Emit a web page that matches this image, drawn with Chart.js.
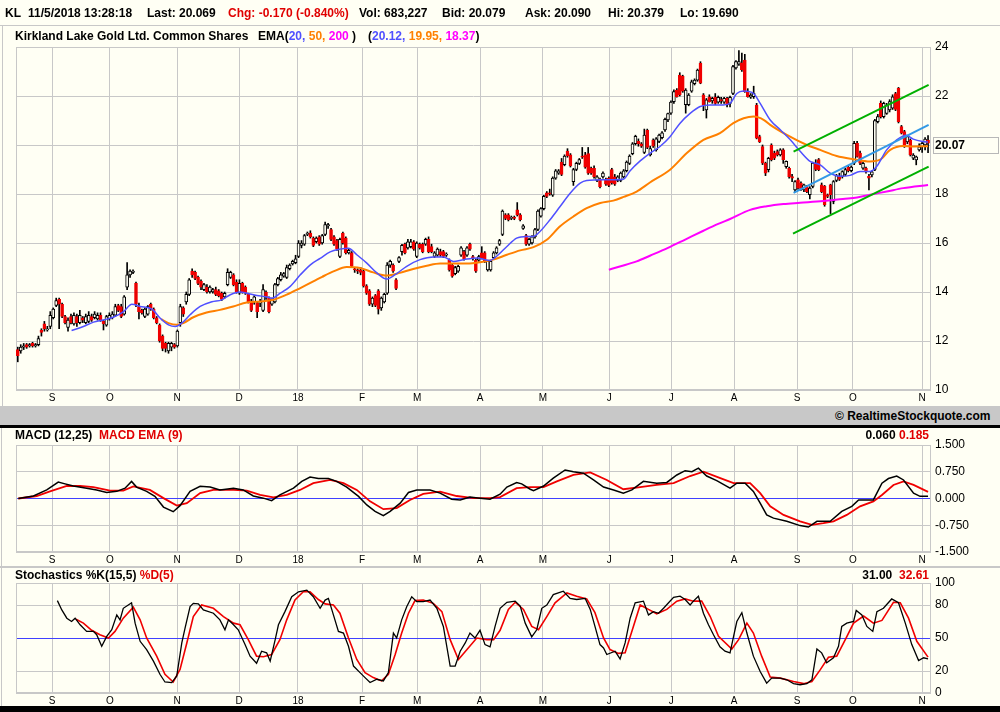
<!DOCTYPE html>
<html><head><meta charset="utf-8">
<script src="https://cdn.jsdelivr.net/npm/chart.js@4.4.1/dist/chart.umd.min.js"></script>
<style>
html,body{margin:0;padding:0;background:#FFFFF4;}
#wrap{position:relative;width:1000px;height:712px;overflow:hidden;background:#FFFFF4;font-family:"Liberation Sans",Arial,sans-serif;font-weight:bold;font-size:12px;color:#000}
.t{position:absolute;white-space:nowrap;line-height:14px}
canvas{position:absolute;left:0}
.red{color:#E00000}
</style></head>
<body><div id="wrap">
<canvas id="price" width="1000" height="405" style="top:0"></canvas>
<canvas id="macd" width="1000" height="139" style="top:428px"></canvas>
<canvas id="stoch" width="1000" height="139" style="top:567px"></canvas>

<div style="position:absolute;left:0;top:25px;width:1000px;height:1px;background:#C8C8C8"></div>
<div style="position:absolute;left:2px;top:26px;width:1px;height:380px;background:#C8C8C8"></div>
<div style="position:absolute;left:0;top:406px;width:1000px;height:19px;background:#C8C8C8"></div>
<div style="position:absolute;left:0;top:425px;width:1000px;height:3px;background:#000"></div>
<div style="position:absolute;left:1px;top:428px;width:1px;height:278px;background:#C8C8C8"></div>
<div style="position:absolute;left:0;top:566px;width:1000px;height:2px;background:#C8C8C8"></div>
<div style="position:absolute;left:0;top:706px;width:1000px;height:6px;background:#000"></div>

<div class="t" style="left:5px;top:6px">KL</div>
<div class="t" style="left:28px;top:6px">11/5/2018 13:28:18</div>
<div class="t" style="left:147px;top:6px">Last: 20.069</div>
<div class="t red" style="left:228px;top:6px">Chg: -0.170 (-0.840%)</div>
<div class="t" style="left:359px;top:6px">Vol: 683,227</div>
<div class="t" style="left:442px;top:6px">Bid: 20.079</div>
<div class="t" style="left:525px;top:6px">Ask: 20.090</div>
<div class="t" style="left:608px;top:6px">Hi: 20.379</div>
<div class="t" style="left:680px;top:6px">Lo: 19.690</div>

<div class="t" style="left:15px;top:29px">Kirkland Lake Gold Ltd. Common Shares</div>
<div class="t" style="left:258px;top:29px">EMA(<span style="color:#5050FF">20,</span> <span style="color:#FF8000">50,</span> <span style="color:#FF00FF">200</span> )</div>
<div class="t" style="left:368px;top:29px">(<span style="color:#5050FF">20.12,</span> <span style="color:#FF8000">19.95,</span> <span style="color:#FF00FF">18.37</span>)</div>

<div class="t" style="left:835px;top:409px">© RealtimeStockquote.com</div>

<div class="t" style="left:15px;top:428px">MACD (12,25) <span class="red">&nbsp;MACD EMA (9)</span></div>
<div class="t" style="right:71px;top:428px">0.060 <span class="red">0.185</span></div>

<div class="t" style="left:15px;top:568px">Stochastics %K(15,5) <span class="red">%D(5)</span></div>
<div class="t" style="right:71px;top:568px">31.00 &nbsp;<span class="red">32.61</span></div>
</div>
<script>
// ---------- DATA (trading days, index 0 = mid Aug 2017) ----------
const opens = [
11.65,11.60,11.75,11.85,11.80,11.90,11.80,11.85,12.45,12.70,
12.45,12.60,12.95,13.45,13.70,13.50,13.00,12.55,13.00,12.70,
13.00,12.75,12.95,12.75,12.80,13.00,12.95,12.90,13.05,12.80,
12.65,12.90,12.95,13.05,13.45,13.40,13.10,14.20,14.70,14.80,
14.35,13.40,13.25,13.00,13.10,13.50,13.30,12.95,12.65,12.20,
11.90,11.60,11.75,11.85,11.80,12.75,13.35,13.60,13.90,14.85,
14.80,14.60,14.45,14.10,14.20,14.00,14.00,14.10,14.05,13.95,
13.80,14.30,14.60,14.70,14.40,13.95,14.35,14.20,13.90,13.60,
13.60,13.55,13.55,13.25,14.00,13.75,13.50,13.60,14.30,14.50,
14.65,14.60,14.95,15.15,15.20,15.45,15.90,15.95,16.35,16.40,
16.20,16.05,16.25,16.00,16.35,16.70,16.55,16.25,16.10,15.45,
16.40,16.20,15.60,15.60,14.95,14.90,14.90,14.85,14.25,14.05,
13.50,13.85,14.05,13.35,13.60,13.95,15.10,15.10,14.50,15.25,
15.65,15.95,15.80,15.85,16.05,15.45,15.95,15.95,15.95,16.15,
15.85,15.45,15.50,15.65,15.65,15.50,15.30,15.10,14.75,14.85,
15.50,15.65,15.50,15.95,15.45,15.30,15.30,15.60,15.60,14.90,
14.90,15.40,15.60,15.95,16.35,17.15,17.15,17.00,17.05,17.35,
17.15,16.60,16.30,15.95,16.00,16.25,16.55,17.10,17.40,18.05,
18.05,17.95,18.65,18.85,19.30,19.20,19.75,19.60,18.50,19.00,
19.25,19.55,19.60,19.65,19.05,19.05,18.55,18.60,18.70,18.60,
18.65,19.00,18.70,18.55,18.55,18.70,18.95,19.25,19.65,20.05,
20.15,20.05,19.70,20.60,19.60,20.20,19.80,20.15,20.30,20.62,
21.02,21.30,21.77,22.24,22.85,22.80,21.65,21.65,22.20,22.50,
22.65,23.33,22.05,21.43,21.97,21.80,21.95,21.75,21.85,21.75,
21.90,21.70,22.11,23.15,23.30,23.35,23.47,22.18,21.95,21.97,
21.63,20.34,19.94,19.26,18.99,20.00,19.67,19.73,19.60,19.80,
19.12,19.05,18.71,18.17,18.58,18.45,18.17,18.30,17.97,18.31,
19.25,19.40,18.37,18.31,17.97,18.37,17.70,18.55,18.70,18.72,
18.80,19.10,18.95,19.26,20.07,19.67,19.05,19.05,18.72,18.78,
19.00,20.95,21.70,21.16,21.29,21.43,21.50,22.10,22.31,20.75,
20.55,20.13,20.20,19.46,19.39,19.80,19.93,20.00,20.20];
const highs = [
11.75,11.85,11.90,11.90,11.90,11.95,11.90,12.20,12.50,12.80,
12.60,13.20,13.35,13.75,13.75,13.55,13.05,12.95,13.10,13.15,
13.10,13.25,13.00,13.10,13.20,13.10,13.20,13.15,13.15,12.85,
13.05,13.15,13.20,13.50,13.50,13.50,13.85,15.20,14.90,14.90,
14.40,13.55,13.30,13.35,13.45,13.55,13.35,13.00,12.70,12.25,
11.95,11.95,11.95,11.90,12.45,13.50,13.40,14.00,14.55,14.95,
14.85,14.65,14.50,14.35,14.30,14.25,14.15,14.20,14.10,14.00,
14.00,14.95,14.85,14.75,14.50,14.50,14.40,14.25,13.95,13.70,
13.85,13.60,13.70,14.30,14.05,13.80,13.75,14.35,14.60,14.80,
14.80,15.10,15.15,15.30,15.50,16.10,16.10,16.35,16.45,16.50,
16.25,16.25,16.30,16.35,16.85,16.80,16.60,16.30,16.15,16.20,
16.45,16.25,15.75,15.65,15.00,14.95,15.00,14.90,14.30,14.10,
13.80,13.90,14.10,13.80,13.95,15.20,15.30,15.15,14.55,15.45,
15.95,16.00,16.15,16.15,16.10,16.05,16.00,16.00,16.20,16.25,
15.95,15.65,15.80,15.75,15.70,15.60,15.35,15.15,15.05,15.10,
15.85,15.70,15.85,16.00,15.50,15.35,15.50,15.85,15.65,15.30,
15.30,15.65,15.85,16.15,17.35,17.20,17.20,17.10,17.10,17.65,
17.20,16.75,16.35,16.20,16.30,16.60,17.35,17.45,17.95,18.10,
18.20,18.70,19.00,19.00,19.45,19.60,19.85,19.65,19.05,19.30,
19.45,19.90,19.70,19.90,19.10,19.15,18.75,18.65,18.90,18.65,
18.70,19.05,18.80,18.75,18.90,19.00,19.35,19.60,20.10,20.40,
20.25,20.10,20.65,20.65,19.95,20.25,20.30,20.45,20.55,21.10,
21.30,21.80,22.25,22.30,22.95,22.85,22.30,22.10,22.65,22.70,
23.10,23.40,22.10,21.90,22.05,21.95,22.10,22.00,21.95,21.95,
21.95,22.00,23.25,23.45,23.85,23.75,23.70,22.30,22.10,22.40,
21.70,20.40,20.00,19.30,19.50,20.05,19.75,19.80,19.85,19.85,
19.35,19.10,18.80,18.55,18.65,18.50,18.40,18.35,18.30,19.30,
19.40,19.45,18.45,18.35,18.00,18.40,18.55,18.80,18.85,18.95,
19.05,19.15,19.15,20.15,20.15,19.75,19.30,19.10,18.80,18.95,
21.05,21.25,21.80,21.75,21.70,21.85,22.05,22.15,22.35,20.80,
20.60,20.40,20.25,19.65,19.55,20.05,20.15,20.30,20.38];
const lows = [
11.15,11.50,11.65,11.70,11.75,11.75,11.75,11.80,12.20,12.40,
12.40,12.50,12.90,13.40,12.50,12.95,12.70,12.40,12.70,12.65,
12.60,12.70,12.75,12.70,12.75,12.80,12.90,12.85,12.80,12.45,
12.60,12.85,12.90,13.00,13.20,12.95,13.05,14.10,14.60,14.75,
13.40,12.90,13.10,12.95,13.05,13.25,12.90,12.70,11.95,11.60,
11.55,11.50,11.60,11.70,11.75,12.60,13.00,13.50,13.85,14.60,
14.50,14.30,14.10,14.05,13.95,13.95,13.95,13.85,13.80,13.65,
13.75,14.25,14.55,14.25,13.95,13.90,13.95,13.90,13.55,13.20,
13.50,12.95,13.40,13.20,13.70,13.15,13.45,13.55,14.25,14.45,
14.60,14.55,14.90,15.10,15.15,15.40,15.80,15.90,16.30,16.20,
15.85,16.00,15.90,15.95,16.30,16.60,16.10,15.90,15.70,15.40,
15.95,15.55,15.55,15.00,14.80,14.75,14.70,14.20,13.90,13.45,
13.40,13.40,13.10,13.25,13.55,13.90,15.00,14.80,14.10,15.20,
15.50,15.55,15.75,15.80,15.70,15.40,15.75,15.60,15.90,15.60,
15.60,15.40,15.45,15.45,15.40,15.45,14.85,14.60,14.70,14.80,
15.45,15.30,15.45,15.70,15.30,14.80,15.25,15.35,15.20,14.85,
14.85,15.35,15.55,15.90,16.30,16.95,16.90,16.95,16.95,17.10,
16.90,16.55,15.90,15.90,15.95,16.20,16.50,17.05,17.35,17.85,
17.95,17.90,18.60,18.80,18.75,19.15,19.50,19.10,18.35,18.95,
19.20,19.45,19.05,18.80,18.80,18.65,18.50,18.25,18.65,18.35,
18.30,18.40,18.35,18.50,18.50,18.65,18.90,19.20,19.60,20.00,
19.95,19.90,19.65,19.85,19.55,19.90,19.75,20.10,20.25,20.55,
20.95,21.25,21.70,21.95,22.00,22.15,21.30,21.60,22.15,22.45,
22.60,22.50,21.40,21.10,21.75,21.70,21.65,21.70,21.70,21.70,
21.55,21.55,22.05,23.10,23.25,23.00,22.15,21.95,21.90,21.90,
20.25,20.10,19.20,18.75,18.90,19.35,19.40,19.55,19.55,19.25,
19.05,18.65,18.50,18.10,18.20,18.15,18.10,18.05,17.80,18.25,
18.95,18.95,18.05,17.50,17.85,17.20,17.60,18.50,18.55,18.65,
18.75,18.90,18.90,19.20,19.50,19.20,19.00,18.85,18.17,18.70,
18.95,20.90,21.10,21.10,21.25,21.35,21.45,21.40,20.90,20.45,
19.90,20.05,19.55,19.40,19.19,19.75,19.70,19.80,19.69];
const closes = [
11.40,11.75,11.80,11.75,11.85,11.80,11.85,12.10,12.35,12.50,
12.50,13.05,13.30,13.65,13.50,13.00,12.75,12.85,12.75,13.05,
12.75,13.05,12.85,13.00,13.05,12.85,13.10,13.05,12.85,12.70,
13.00,13.05,13.10,13.40,13.25,13.00,13.80,14.70,14.85,14.85,
13.50,13.20,13.15,13.30,13.40,13.30,12.95,12.75,12.00,11.70,
11.70,11.90,11.90,11.75,12.40,13.40,13.10,13.90,14.50,14.70,
14.55,14.35,14.20,14.30,14.00,14.20,14.10,13.90,13.85,13.70,
13.95,14.80,14.80,14.30,14.00,14.35,14.00,13.95,13.60,13.25,
13.80,13.20,13.60,14.10,13.80,13.20,13.70,14.30,14.55,14.70,
14.75,15.00,15.10,15.25,15.35,16.00,16.00,16.30,16.40,16.25,
15.90,16.20,15.95,16.30,16.75,16.75,16.15,15.95,15.75,16.15,
16.00,15.60,15.70,15.05,14.90,14.85,14.80,14.25,13.95,13.50,
13.75,13.45,13.30,13.75,13.90,15.10,15.25,14.85,14.15,15.40,
15.90,15.60,16.05,16.05,15.75,16.00,15.80,15.65,16.15,15.65,
15.65,15.60,15.75,15.50,15.45,15.55,14.90,14.65,15.00,15.05,
15.80,15.35,15.80,15.75,15.40,14.85,15.45,15.40,15.25,15.25,
15.25,15.60,15.80,16.10,17.30,17.00,16.95,17.05,17.00,17.15,
16.95,16.70,15.95,16.15,16.25,16.55,17.30,17.40,17.90,17.90,
18.00,18.65,18.95,18.95,18.80,19.55,19.55,19.15,19.00,19.25,
19.40,19.50,19.10,18.85,18.85,18.70,18.70,18.30,18.85,18.40,
18.35,18.45,18.40,18.70,18.85,18.95,19.30,19.55,20.05,20.35,
20.05,19.95,20.40,19.90,19.85,19.95,20.25,20.40,20.50,21.05,
21.28,21.75,22.18,21.97,22.05,22.20,22.24,22.04,22.58,22.65,
23.06,22.52,21.63,21.84,21.77,21.90,21.70,21.95,21.80,21.90,
21.65,21.95,23.20,23.40,23.40,23.06,22.18,21.97,22.04,22.11,
20.28,20.14,19.26,18.85,19.46,19.40,19.46,19.60,19.80,19.40,
19.33,18.71,18.65,18.51,18.24,18.20,18.37,18.10,18.24,19.26,
19.00,18.99,18.10,17.56,17.90,17.97,18.51,18.75,18.60,18.92,
19.00,18.95,19.10,20.07,19.53,19.26,19.25,18.90,18.65,18.90,
21.00,21.16,21.16,21.70,21.63,21.77,21.97,21.45,20.95,20.48,
19.93,20.34,19.60,19.59,19.52,19.93,20.07,20.24,20.07];

// EMA readings [trading day, value]
const ema20 = [[18.2,12.43],[22.2,12.59],[25.6,12.77],[29,12.86],[32.3,12.97],[35.8,13.2],[38.6,13.5],[41.4,13.41],[45.4,13.3],[48.2,12.93],[51,12.66],[53.3,12.59],[55.5,12.73],[58.3,13.07],[61.7,13.41],[65.7,13.6],[69,13.68],[71.9,13.89],[75.2,14.0],[77.5,13.95],[80.9,13.86],[84.3,13.8],[86,13.75],[88.8,13.95],[92.2,14.23],[95.6,14.7],[99,15.11],[102.3,15.37],[105.7,15.64],[109,15.75],[111.9,15.79],[114.7,15.52],[118.1,15.18],[121.5,14.78],[124.8,14.53],[127.7,14.71],[131.6,15.05],[136.1,15.32],[140.6,15.43],[144,15.43],[147.4,15.25],[150.8,15.32],[155.3,15.39],[159.8,15.29],[162.6,15.52],[165.5,15.86],[168.8,16.2],[172.2,16.27],[174.5,16.27],[176.7,16.47],[180.1,16.95],[183.5,17.49],[186.9,18.03],[190.3,18.44],[192.5,18.55],[198.2,18.58],[201.5,18.58],[204.9,18.6],[207.2,18.95],[210.6,19.35],[214,19.67],[217.3,19.94],[220.7,20.34],[224.1,20.89],[227.5,21.29],[230.9,21.57],[234.3,21.63],[237.6,21.63],[241,21.7],[243.3,22.1],[245.6,22.2],[249,22.1],[251.2,21.7],[254.6,21.02],[258,20.62],[261.4,20.21],[264.8,19.73],[268.1,19.33],[271.5,19.19],[274.9,18.85],[278.3,18.72],[281.6,18.76],[285,18.92],[288.4,18.92],[290.6,19.12],[294,19.8],[297.4,20.21],[300.6,20.4],[303,20.24],[306.4,20.14],[308,20.12]];
const ema50 = [[48.5,12.89],[51,12.73],[53.8,12.66],[56,12.73],[59.4,12.97],[63.9,13.16],[68.4,13.27],[72.9,13.41],[77.5,13.57],[81.9,13.61],[86.5,13.68],[91,13.89],[95.6,14.16],[100,14.43],[103,14.62],[106.8,14.84],[111.3,15.02],[115.8,14.98],[120.3,14.8],[124.8,14.67],[129.3,14.78],[133.8,14.94],[138.4,15.07],[142.9,15.16],[147.4,15.16],[151.9,15.16],[156.4,15.21],[160.9,15.32],[165.5,15.52],[170,15.7],[174.5,15.83],[179,16.13],[183.5,16.68],[188,17.08],[192.5,17.42],[197.1,17.63],[201.5,17.73],[205,17.88],[209.4,18.1],[213.9,18.47],[220.7,18.99],[226.4,19.67],[232,20.21],[237.6,20.48],[242.1,20.89],[245.6,21.09],[249,21.16],[252.5,21.02],[254.6,20.82],[260.2,20.41],[267,20.0],[271.5,19.8],[277.1,19.55],[282.8,19.42],[288.4,19.33],[291.8,19.4],[295.2,19.8],[299.6,19.96],[303,19.94],[308,19.95]];
const ema200 = [[200,14.91],[204,15.05],[209.4,15.25],[213.9,15.48],[220,15.8],[226,16.15],[232,16.5],[237,16.78],[241,16.98],[247.8,17.35],[253.4,17.5],[259.1,17.59],[264.7,17.64],[272.6,17.71],[279.2,17.8],[284,17.86],[288.4,17.97],[294,18.1],[299.6,18.24],[308,18.37]];
// hand-drawn channel lines [trading day, value]
const upperLine = [[262.5,19.73],[308.2,22.45]];
const middleLine = [[262.5,18.05],[308.2,20.82]];
const lowerLine = [[262.3,16.38],[308.2,19.12]];

// MACD readings
const macdLine = [[0.2,0],[5.3,0.07],[9.8,0.24],[13.7,0.46],[16,0.41],[18.8,0.35],[23.3,0.29],[26.7,0.24],[30.1,0.17],[33.5,0.2],[36.3,0.29],[38.5,0.48],[40.2,0.32],[43.6,0.2],[46.4,0.06],[49.3,-0.24],[52.6,-0.37],[54.9,-0.2],[58.3,0.2],[61.7,0.34],[65.1,0.32],[68.4,0.24],[73,0.29],[76.3,0.24],[79.7,0.07],[83.1,0.01],[85.9,-0.06],[88.7,0.1],[93.3,0.29],[96.1,0.48],[98.9,0.6],[101.7,0.56],[105.1,0.56],[107.9,0.48],[111.3,0.32],[115.3,0.06],[118.1,-0.18],[120.9,-0.36],[123.7,-0.48],[126,-0.36],[129.4,-0.13],[132.2,0.17],[135,0.24],[139.5,0.24],[142.9,0.15],[146.8,-0.02],[149.7,-0.04],[153,0.04],[156.4,0.01],[159.8,-0.02],[163.2,0.12],[165.5,0.32],[168.8,0.45],[170.5,0.41],[173.4,0.26],[174.5,0.22],[177.9,0.35],[181.2,0.57],[185.2,0.8],[188,0.75],[191.4,0.71],[194.8,0.52],[198.2,0.32],[201.6,0.24],[204.9,0.15],[207.8,0.24],[211.7,0.48],[216.2,0.43],[219.6,0.45],[223,0.66],[225.8,0.78],[228.1,0.75],[230.3,0.85],[233.1,0.63],[236.5,0.5],[241,0.29],[243.3,0.43],[246.1,0.43],[248.9,0.2],[251.2,-0.13],[253.4,-0.46],[255.7,-0.55],[260.2,-0.64],[264.7,-0.76],[267.5,-0.8],[270.4,-0.64],[274.9,-0.64],[278.8,-0.36],[282.2,-0.22],[284.5,-0.04],[287.3,-0.04],[289.5,-0.04],[292.4,0.43],[294.6,0.56],[297.4,0.63],[299.7,0.52],[303.1,0.15],[305.3,0.06],[308,0.06]];
const macdSignal = [[0.2,0],[6.4,0.07],[10.9,0.2],[16.6,0.35],[21.1,0.35],[25.6,0.32],[31.2,0.22],[35.7,0.22],[39.1,0.34],[44.7,0.24],[49.3,0.01],[53.8,-0.2],[57.2,-0.13],[61.7,0.15],[66.2,0.24],[73,0.24],[77.5,0.22],[82,0.1],[86.5,0.03],[91,0.1],[95.5,0.24],[100,0.43],[105.7,0.52],[110.2,0.43],[114.7,0.24],[119.2,-0.08],[123.7,-0.3],[128.2,-0.27],[132.7,-0.04],[137.2,0.13],[142.9,0.19],[148.5,0.07],[154.2,0.01],[159.8,0.01],[163.2,0.04],[168.8,0.29],[173.4,0.32],[177.9,0.32],[182.4,0.48],[188,0.66],[193.7,0.73],[199.3,0.52],[204.9,0.26],[210.6,0.32],[216.2,0.38],[221.9,0.43],[227.5,0.63],[232,0.75],[237.7,0.57],[242.2,0.43],[247.8,0.43],[251.2,0.15],[254.6,-0.22],[259.1,-0.46],[264.7,-0.64],[268.7,-0.74],[272.6,-0.69],[276,-0.64],[280.5,-0.46],[285,-0.22],[289.5,-0.08],[292.4,0.1],[296.3,0.38],[299.7,0.48],[303.1,0.38],[308,0.185]];

// Stochastics readings
const stochK = [[13.4,84],[14.9,75.5],[16.6,68],[18.2,65],[19.4,68],[21.1,62],[23.3,56],[25.6,56],[26.7,53],[28.4,42.5],[30.1,51.5],[31.8,57.5],[33.5,71],[34.6,66.5],[35.7,77],[37.4,80],[38.5,82],[39.7,63.5],[41.4,47],[43.6,39.5],[45.9,29],[48.1,17],[49.8,10],[52.1,9.5],[53.8,15.5],[55.5,45.5],[56.6,59],[58.3,78.5],[59.4,81.5],[61.1,81],[62.8,75.5],[66.2,72.5],[68.4,66.5],[70.1,57.5],[71.3,66.5],[73,62],[74.6,57.5],[76.9,44],[78.6,33.5],[80.8,27],[82.5,38],[84.2,36.5],[85.4,29],[87.1,48.5],[88.2,62],[90.4,74],[92.7,87.5],[95,92],[97.8,93.5],[100,87.5],[102.3,77],[104,84.5],[105.1,86],[106.8,71],[108.5,56],[110.2,54.5],[111.9,42.5],[113.6,24.5],[115.8,18.5],[117.5,14],[119.2,9.5],[121.5,12.5],[123.7,11],[125.4,18.5],[127.1,54.5],[128.2,50],[129.9,66.5],[131.6,78.5],[133.3,87.5],[135,83],[137.2,83],[139.5,84.5],[141.8,77],[144,60.5],[146.3,24.5],[148,24.5],[149.7,38],[151.4,45.5],[153,54.5],[154.7,50],[156.4,57],[158.1,44],[159.8,42],[161.5,60.5],[163.2,77],[165.5,82.5],[168.3,83.5],[170,79],[171.7,63.5],[173.9,51],[175.6,57.5],[177.3,77],[179,80],[181.2,89.5],[182.9,91],[184.6,92.5],[186.9,86],[189.1,85],[192,86],[193.7,76],[195.3,60.5],[197,44],[198.2,41],[199.3,35],[202.1,38],[203.8,31],[205.5,45.5],[207.2,68],[208.9,82],[211.7,83.5],[213.4,71],[215.1,74],[216.8,72.5],[218.5,77],[220.2,82],[221.9,87],[224.1,88],[225.8,85],[227.5,80],[228.6,83.5],[230.3,88],[232,72.5],[233.7,62],[235.4,53],[237.6,42],[239.3,38],[241,36.5],[242.2,51.5],[243.3,65],[245,73],[246.7,54.5],[248.9,33.5],[251.2,19.5],[253.4,9],[255.1,13.5],[258,13.5],[260.2,12],[262.5,8.5],[264.7,7.5],[267,8.5],[268.7,12],[270.4,40],[272,36.5],[273.7,27.5],[276,32],[277.7,42.5],[278.8,60.5],[280.5,63.5],[282.8,65],[283.7,75],[285.6,71],[287.3,60.5],[289.3,56],[290.7,74],[292.9,77],[295.7,85.5],[298,82],[300.3,63.5],[302.5,44],[304.8,29.5],[306.5,32],[308,31]];
const stochD = [[19.7,67],[22.2,63.5],[25,57],[27.8,53],[30.7,50],[32.9,56],[35.7,68],[39.1,78],[41.4,66.5],[43.6,50],[47,33.5],[49.8,17],[52.6,10],[54.9,21.5],[57.2,45.5],[59.4,69.5],[62.2,80],[66.2,77],[69.6,69.5],[73,63.5],[75.2,62],[78,48.5],[80.8,33.5],[83.1,33],[85.9,35],[88.7,48.5],[91,66.5],[93.8,84.5],[96.6,92],[98.9,92],[101.7,85],[104,81],[106.8,80],[109,72.5],[111.9,50],[114.7,30.5],[117.5,18.5],[120.3,14],[123.1,11],[125.4,17],[127.7,35],[129.9,54.5],[132.2,72.5],[134.4,84],[137.2,84.5],[140.6,81.5],[143.5,74],[146.3,48.5],[149.1,30.5],[152,39.5],[155.3,50],[158.7,48.5],[161,48.5],[163.2,57],[166,76],[168.3,82.5],[171.1,76],[173.9,60.5],[176.2,57.5],[179,69.5],[181.8,82],[185.8,91],[189.1,88],[192.5,85.5],[195.3,73],[198.2,50],[200.4,39.5],[203.2,36],[205.5,36.5],[208.3,60.5],[210.6,80],[213.4,76],[216.2,72],[219.6,76],[223,83.5],[225.8,85.5],[228.6,83.5],[231.4,83.5],[234.3,69.5],[237.1,51.5],[241.6,40],[243.9,48.5],[246.7,63.5],[248.9,54.5],[251.7,33.5],[254.6,14.5],[258,13.5],[262.5,10.5],[265.9,8.5],[268.7,10.5],[271.5,21],[274.3,32.5],[277.1,33.5],[280,48.5],[282.8,63.5],[286.2,70],[289.5,63.5],[292.4,66],[296.3,82.5],[298.6,82],[301.4,68],[304.2,47],[308,32.61]];

// axis ticks
const monthTickDays = [11.6,31.2,53.9,74.9,94.8,116.5,135.1,156.4,177.7,200.1,221.1,242.4,263.7,282.6,306.0];
const monthLabels = ['S','O','N','D','18','F','M','A','M','J','J','A','S','O','N'];
const priceTicks = [10,12,14,16,18,20,22,24];
const macdTicks = [-1.5,-0.75,0,0.75,1.5];
const stochTicks = [0,20,50,80,100];

// ---------- STYLE ----------
const FONT = '"Liberation Sans", Arial, sans-serif';
const BG = '#FFFFF4';
const GRID = '#C8C8C8';
const BLUE0 = '#4040FF';
const RED = '#F00000';

const days = closes.map((_, i) => i);
const pts = arr => arr.map(([x, y]) => ({x, y}));

function xAxis(h) {
  return {
    type: 'linear', min: -0.6, max: 309, offset: false,
    afterBuildTicks: s => { s.ticks = monthTickDays.map(v => ({value: v})); },
    afterFit: s => { s.height = h; },
    ticks: {autoSkip: false, maxRotation: 0, padding: 2, color: '#000',
      font: {family: FONT, size: 10}, callback: (v, i) => monthLabels[i]},
    grid: {color: GRID, drawTicks: false, lineWidth: 1, offset: false},
    border: {display: false}
  };
}
function yAxis(min, max, ticks, cb, zeroVal) {
  return {
    type: 'linear', position: 'right', min, max,
    afterBuildTicks: s => { s.ticks = ticks.map(v => ({value: v})); },
    afterFit: s => { s.width = 69; },
    ticks: {padding: 4, color: '#000', font: {family: FONT, size: 12}, callback: cb},
    grid: {drawTicks: false, lineWidth: 1,
      color: c => (zeroVal !== null && c.tick && c.tick.value === zeroVal) ? BLUE0 : GRID},
    border: {display: false}
  };
}
const framePlugin = {
  id: 'frame',
  beforeDatasetsDraw(chart) {
    const a = chart.chartArea, ctx = chart.ctx;
    ctx.save(); ctx.strokeStyle = GRID; ctx.lineWidth = 1;
    ctx.strokeRect(Math.round(a.left) + 0.5, Math.round(a.top) + 0.5,
      Math.round(a.right - a.left) - 1, Math.round(a.bottom - a.top) - 1);
    ctx.restore();
  }
};
const lastBoxPlugin = {
  id: 'lastBox',
  afterDraw(chart) {
    const {ctx, chartArea, scales} = chart;
    const v = closes[closes.length - 1];
    const py = Math.round(scales.y.getPixelForValue(v)) + 2;
    const x0 = Math.round(chartArea.right) + 2;
    ctx.save();
    ctx.fillStyle = BG; ctx.fillRect(x0, py - 8, 65, 16);
    ctx.strokeStyle = '#B8B8B8'; ctx.lineWidth = 1;
    ctx.strokeRect(x0 + 0.5, py - 7.5, 65, 16);
    ctx.fillStyle = '#000'; ctx.font = 'bold 12px ' + FONT; ctx.textBaseline = 'middle';
    ctx.fillText(v.toFixed(2), x0 + 2, py + 1);
    ctx.restore();
  }
};
function baseOpts(padTop, xh, y) {
  return {
    responsive: false, animation: false, events: [],
    layout: {padding: {left: 16, top: padTop, right: 0, bottom: 0}},
    plugins: {legend: {display: false}, tooltip: {enabled: false}},
    scales: {x: xAxis(xh), y}
  };
}
const lineDs = (arr, color, width, order, smooth) => ({
  type: 'line', data: pts(arr), borderColor: color, borderWidth: width,
  pointRadius: 0, fill: false, order,
  cubicInterpolationMode: smooth ? 'monotone' : 'default', tension: 0
});

// ---------- PRICE ----------
new Chart(document.getElementById('price'), {
  type: 'bar',
  data: {datasets: [
    {type: 'bar', data: days.map(i => ({x: i, y: [lows[i], highs[i]]})),
     backgroundColor: '#000', barThickness: 1, grouped: false, order: 10},
    {type: 'bar', data: days.map(i => ({x: i, y: [opens[i], closes[i]]})),
     backgroundColor: days.map(i => closes[i] >= opens[i] ? BG : RED),
     borderColor: days.map(i => closes[i] >= opens[i] ? '#000' : RED),
     borderWidth: 1, borderSkipped: false, barThickness: 3, grouped: false, order: 9},
    lineDs(ema200, '#FF00FF', 2, 8, true),
    lineDs(ema50, '#FF8000', 2, 7, true),
    lineDs(ema20, '#5050FF', 1.5, 6, true),
    lineDs(upperLine, '#00B000', 2, 5, false),
    lineDs(lowerLine, '#00B000', 2, 4, false),
    lineDs(middleLine, '#3399E6', 2, 3, false)
  ]},
  options: baseOpts(47, 15, yAxis(10, 24, priceTicks, v => v === 20 ? '' : String(v), null)),
  plugins: [framePlugin, lastBoxPlugin]
});

// ---------- MACD ----------
new Chart(document.getElementById('macd'), {
  type: 'line',
  data: {datasets: [
    lineDs(macdSignal, '#F00000', 1.8, 2, false),
    lineDs(macdLine, '#000000', 1.5, 1, false)
  ]},
  options: baseOpts(17, 15, yAxis(-1.5, 1.5, macdTicks, v => Number(v).toFixed(3), 0)),
  plugins: [framePlugin]
});

// ---------- STOCHASTICS ----------
new Chart(document.getElementById('stoch'), {
  type: 'line',
  data: {datasets: [
    lineDs(stochD, '#F00000', 1.6, 2, false),
    lineDs(stochK, '#000000', 1.3, 1, false)
  ]},
  options: baseOpts(16, 13, yAxis(0, 100, stochTicks, v => String(v), 50)),
  plugins: [framePlugin]
});
</script>
</body></html>
